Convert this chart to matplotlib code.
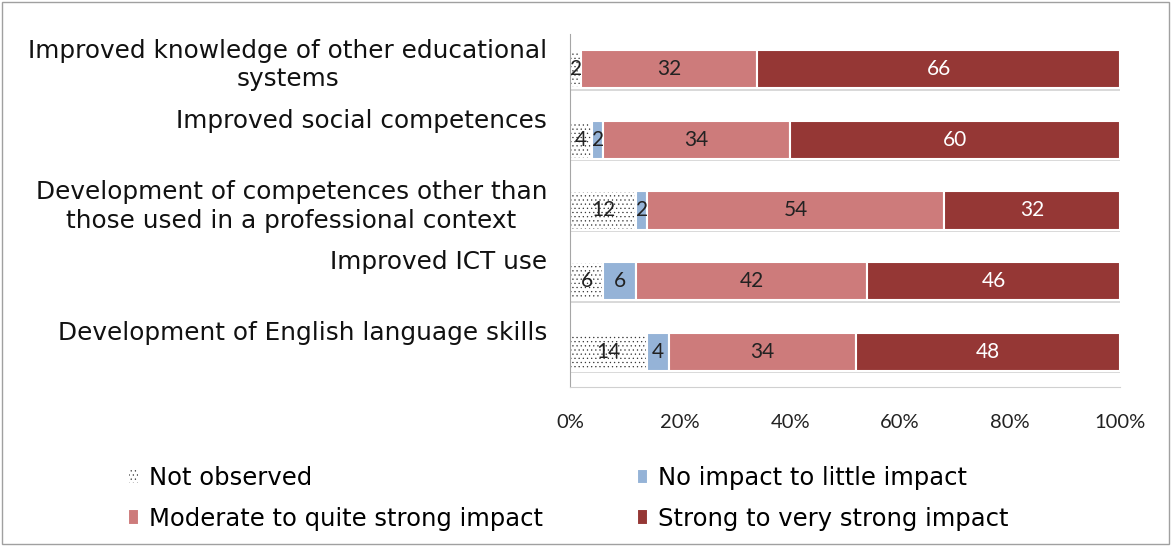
import matplotlib
matplotlib.use("Agg")
import matplotlib.pyplot as plt
import matplotlib.transforms as mtransforms
from matplotlib.patches import Rectangle
import numpy as np

plt.rcParams['hatch.linewidth'] = 0.4

categories = [
    "Improved knowledge of other educational\nsystems",
    "Improved social competences",
    "Development of competences other than\nthose used in a professional context",
    "Improved ICT use",
    "Development of English language skills",
]
series_names = [
    "Not observed",
    "No impact to little impact",
    "Moderate to quite strong impact",
    "Strong to very strong impact",
]
not_observed = [2, 4, 12, 6, 14]
no_impact = [0, 2, 2, 6, 4]
moderate = [32, 34, 54, 42, 34]
strong = [66, 60, 32, 46, 48]
tick_labels = ["0%", "20%", "40%", "60%", "80%", "100%"]

colors = ["white", "#95B3D7", "#CD7B7B", "#953735"]
text_colors = ["#222222", "#222222", "#222222", "white"]
hatches = ["....", None, None, None]

fig = plt.figure(figsize=(11.73, 5.46), dpi=100)
fig.patches.append(Rectangle((0.002, 0.003), 0.995, 0.993, transform=fig.transFigure,
                             fill=False, edgecolor="#A0A0A0", linewidth=1.0))
ax = fig.add_axes([0.486, 0.291, 0.469, 0.647])

y = np.arange(len(categories))
data = [not_observed, no_impact, moderate, strong]
left = np.zeros(len(categories))
bar_h = 0.54
handles = []
for vals, c, tc, h, name in zip(data, colors, text_colors, hatches, series_names):
    vals = np.array(vals, dtype=float)
    ax.barh(y + 0.035, vals, left=left, height=bar_h, color="#D9D9D9",
            edgecolor="none", zorder=1)
    bars = ax.barh(y, vals, left=left, height=bar_h, color=c, edgecolor="white",
                   linewidth=1.5, hatch=h, label=name, zorder=2)
    if h:
        for b in bars:
            b._hatch_color = (0.2, 0.2, 0.2, 1)
    handles.append(bars)
    for yi, v, l in zip(y, vals, left):
        if v > 0:
            ax.text(l + v / 2, yi, f"{int(v)}", ha="center", va="center",
                    fontsize=15, color=tc, family="Lato", zorder=3)
    left += vals

ax.set_xlim(0, 100)
ax.set_ylim(len(categories) - 0.5, -0.5)
ax.set_xticks(np.linspace(0, 100, len(tick_labels)))
ax.set_xticklabels(tick_labels, fontsize=14.5, family="Lato", color="#222222")
ax.tick_params(axis="x", length=0, pad=19)
ax.set_yticks([])
for s in ["top", "right"]:
    ax.spines[s].set_visible(False)
ax.spines["left"].set_color("#A6A6A6")
ax.spines["bottom"].set_color("#D0D0D0")

for yi, cat in zip(y, categories):
    dy = 4 if "\n" in cat else 19
    tr = mtransforms.blended_transform_factory(ax.transAxes, ax.transData) + \
        mtransforms.ScaledTranslation(-23 / 100, dy / 100, fig.dpi_scale_trans)
    ax.text(0, yi, cat, transform=tr, ha="right", va="center", multialignment="center",
            fontsize=17.8, color="#111111", linespacing=1.22)

order = [0, 2, 1, 3]
leg = fig.legend([handles[i] for i in order], [series_names[i] for i in order],
                 loc="upper left", bbox_to_anchor=(128 / 1173, 1 - 466 / 546),
                 ncol=2, frameon=False, fontsize=17.5, handlelength=0.45, borderpad=0,
                 borderaxespad=0,
                 handleheight=0.6, handletextpad=0.4, columnspacing=3.9, labelspacing=0.68)
fig.savefig("out.png", dpi=100)
